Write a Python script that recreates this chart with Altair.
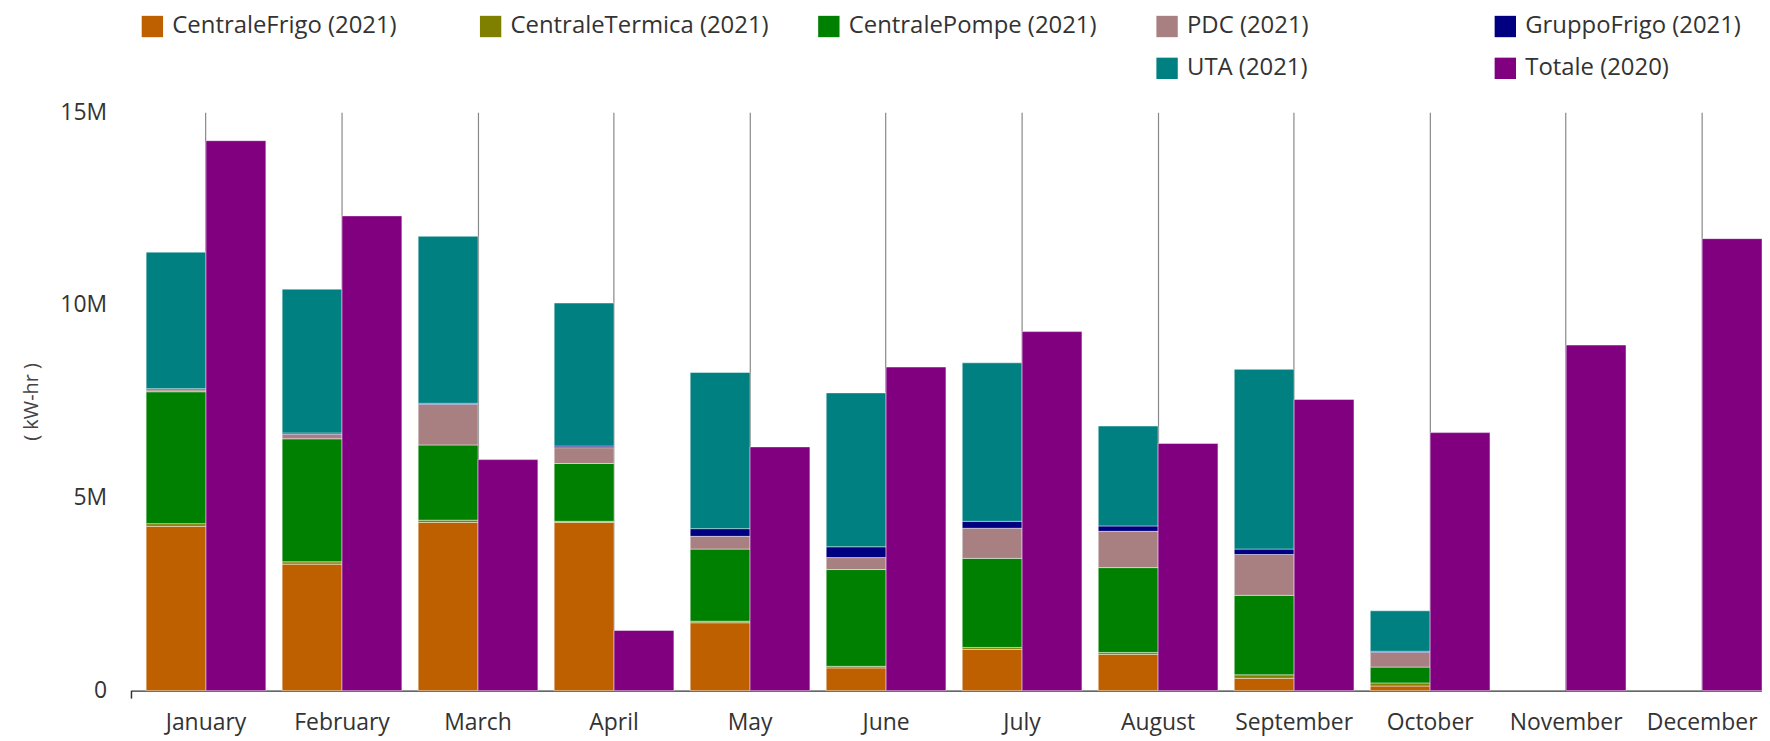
import altair as alt
import pandas as pd

months = ["January", "February", "March", "April", "May", "June", "July",
          "August", "September", "October", "November", "December"]

# 2021 components (million kW-hr), January..October
centrale_frigo = [4.26, 3.28, 4.36, 4.36, 1.76, 0.59, 1.07, 0.94, 0.32, 0.12]
centrale_termica = [0.07, 0.06, 0.06, 0.03, 0.04, 0.04, 0.05, 0.05, 0.09, 0.08]
centrale_pompe = [3.42, 3.19, 1.95, 1.50, 1.87, 2.51, 2.31, 2.20, 2.06, 0.41]
pdc = [0.05, 0.12, 1.05, 0.41, 0.33, 0.31, 0.78, 0.94, 1.06, 0.38]
gruppo_frigo = [0.03, 0.03, 0.03, 0.04, 0.20, 0.28, 0.18, 0.14, 0.14, 0.03]
uta = [3.54, 3.73, 4.33, 3.71, 4.05, 3.99, 4.11, 2.59, 4.66, 1.05]
# 2020 total, January..December
totale_2020 = [14.26, 12.31, 5.99, 1.56, 6.32, 8.39, 9.31, 6.41, 7.55, 6.69, 8.96, 11.72]

series_2021 = [
    ("CentraleFrigo (2021)", centrale_frigo),
    ("CentraleTermica (2021)", centrale_termica),
    ("CentralePompe (2021)", centrale_pompe),
    ("PDC (2021)", pdc),
    ("GruppoFrigo (2021)", gruppo_frigo),
    ("UTA (2021)", uta),
]

legend_domain = ["CentraleFrigo (2021)", "CentraleTermica (2021)", "CentralePompe (2021)",
                 "PDC (2021)", "GruppoFrigo (2021)", " ", "  ", "   ",
                 "UTA (2021)", "Totale (2020)"]
legend_colors = ["#bf6000", "#808000", "#008000", "#a88082", "#000080",
                 "rgba(0,0,0,0)", "rgba(0,0,0,0)", "rgba(0,0,0,0)",
                 "#008080", "#800080"]

rows = []
for k, (name, vals) in enumerate(series_2021):
    for i, v in enumerate(vals):
        rows.append({"month": months[i], "group": "2021", "series": name,
                     "value": v * 1e6, "order": k})
for i, v in enumerate(totale_2020):
    rows.append({"month": months[i], "group": "2020", "series": "Totale (2020)",
                 "value": v * 1e6, "order": 10})
df = pd.DataFrame(rows)

FONT = "Open Sans"
W = 1637.6
H = 581

bars = alt.Chart(df).mark_bar(stroke="white", strokeWidth=1, strokeOpacity=0.45).encode(
    x=alt.X("month:N", sort=months,
            scale=alt.Scale(domain=months, paddingInner=0.12, paddingOuter=0.054, align=1, round=False),
            axis=alt.Axis(title=None, labelAngle=0, ticks=False, grid=True, gridColor="#888",
                          gridWidth=1.2, bandPosition=0.5, domainColor="#333", domainWidth=1.5,
                          labelFont=FONT, labelFontSize=23, labelColor="#333", labelPadding=21)),
    xOffset=alt.XOffset("group:N", sort=["2021", "2020"],
                        scale=alt.Scale(domain=["2021", "2020"], paddingInner=0, paddingOuter=0)),
    y=alt.Y("value:Q", stack="zero",
            scale=alt.Scale(domain=[0, 15e6], nice=False),
            axis=alt.Axis(title="( kW-hr )", values=[0, 5e6, 10e6, 15e6],
                          labelExpr="datum.value == 0 ? '0' : format(datum.value, '~s')",
                          grid=False, ticks=False, domain=False,
                          labelFont=FONT, labelFontSize=23, labelColor="#333", labelPadding=25,
                          titleFont=FONT, titleFontSize=20, titleFontWeight="normal",
                          titleColor="#444", titlePadding=18)),
    color=alt.Color("series:N",
                    scale=alt.Scale(domain=legend_domain, range=legend_colors),
                    legend=alt.Legend(title=None, orient="none", legendX=9, legendY=-98,
                                      direction="horizontal", columns=5, gridAlign="all",
                                      symbolType="square", symbolSize=460, symbolStrokeWidth=0,
                                      labelFont=FONT, labelFontSize=24, labelColor="#333",
                                      labelOffset=8, labelLimit=400, rowPadding=18,
                                      columnPadding=47.7, padding=0)),
    order=alt.Order("order:Q", sort="ascending"),
)

tick = alt.Chart(pd.DataFrame({"a": [0]})).mark_rule(color="#333", strokeWidth=1.5).encode(
    x=alt.value(0), y=alt.value(H), y2=alt.value(H + 8))

chart = alt.layer(bars, tick).properties(
    width=W, height=H,
    padding={"left": 124, "top": 103, "right": 0, "bottom": 49},
    autosize=alt.AutoSizeParams(type="none"),
).configure_view(stroke=None)

chart.save("out.html", embed_options={"renderer": "svg", "actions": False})
